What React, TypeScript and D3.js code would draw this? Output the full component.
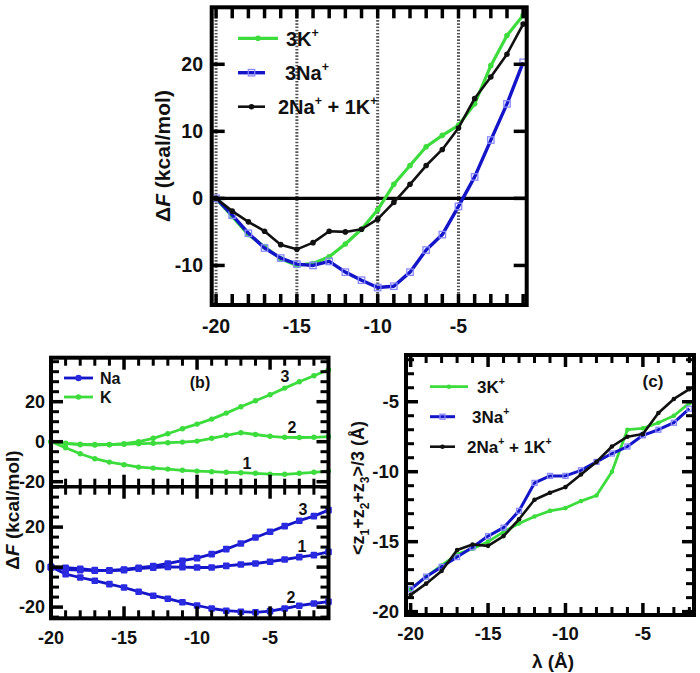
import React from 'react';
import * as d3 from 'd3';

// ---------- data ----------
const lambdaA = [-20, -19, -18, -17, -16, -15, -14, -13, -12, -11, -10, -9, -8, -7, -6, -5, -4, -3, -2, -1];
const k3A = [0, -2.7, -5.4, -7.2, -9.0, -10.0, -9.7, -8.7, -6.8, -4.6, -1.7, 2.1, 4.9, 7.7, 9.4, 10.9, 14.1, 19.8, 24.3, 27.3];
const na3A = [0, -2.5, -5.2, -7.4, -8.9, -9.8, -10.0, -9.4, -11.0, -12.2, -13.3, -13.1, -11.0, -7.7, -5.4, -1.2, 3.2, 8.7, 14.1, 20.3];
const mixA = [0, -1.9, -3.5, -4.9, -6.9, -7.6, -6.6, -4.9, -5.0, -4.6, -3.1, -0.6, 2.1, 4.9, 7.3, 10.5, 14.9, 18.1, 21.5, 26.0];

const lambdaB = [-20, -19, -18, -17, -16, -15, -14, -13, -12, -11, -10, -9, -8, -7, -6, -5, -4, -3, -2, -1];
const k1B = [0, -3, -6, -8.5, -10.2, -11.5, -12.7, -13.2, -13.7, -14.3, -14.7, -15, -15.3, -15.5, -15.8, -16.2, -16.3, -15.8, -15.3, -14.7];
const k2B = [0, -0.8, -1.2, -1.4, -1.4, -1.3, -1.0, -0.8, -0.5, -0.2, 0.3, 1.7, 3.2, 4.5, 3.6, 2.7, 2.2, 2.1, 2.2, 2.5];
const k3B = [0, -1, -1.5, -1.7, -1.5, -1, 0, 1.7, 4, 6.5, 8.8, 11.3, 14.3, 17.5, 20.5, 23.5, 26.8, 30, 33, 36];
const na1B = [0, -0.3, -0.8, -1.5, -1.8, -1.5, -0.8, -0.3, 0.1, 0.0, -0.2, -0.2, 0.6, 1.3, 1.8, 2.7, 3.8, 5.0, 6.0, 7.6];
const na2B = [0, -3.5, -5.2, -6.8, -8.5, -10.2, -12.3, -14.3, -15.8, -17.6, -19.2, -20.7, -21.8, -22.3, -22.6, -22.0, -20.7, -19.3, -18.2, -17.3];
const na3B = [0, -1.2, -1.5, -1.8, -1.6, -1.2, -0.3, 0.5, 1.8, 3.2, 4.5, 6.5, 9, 11.8, 14.8, 17.7, 20.5, 23.2, 25.5, 28.5];

const lambdaC = [-20, -19, -18, -17, -16, -15, -14, -13, -12, -11, -10, -9, -8, -7, -6, -5, -4, -3, -2];
const k3C = [-18.4, -17.5, -16.7, -15.9, -15.5, -15.0, -14.3, -13.7, -13.2, -12.8, -12.6, -12.1, -11.7, -10.0, -7.0, -6.9, -6.5, -6.0, -5.1];
const na3C = [-18.4, -17.5, -16.8, -16.1, -15.4, -14.6, -14.0, -12.8, -10.8, -10.3, -10.3, -9.9, -9.3, -8.7, -8.2, -7.4, -7.0, -6.5, -5.5];
const mixC = [-18.8, -18.0, -17.1, -15.6, -15.2, -15.3, -14.6, -13.4, -12.0, -11.5, -11.1, -10.2, -9.3, -8.2, -7.5, -7.3, -5.8, -4.8, -4.1];

const xTicksA = [-20, -15, -10, -5];
const yTicksA = [20, 10, 0, -10];
const xMinorA = [-20, -19, -18, -17, -16, -15, -14, -13, -12, -11, -10, -9, -8, -7, -6, -5, -4, -3, -2, -1];
const xTicksB = [-20, -15, -10, -5];
const xMinorB = [-19, -18, -17, -16, -14, -13, -12, -11, -9, -8, -7, -6, -4, -3, -2, -1];
const yTicksB = [20, 0, -20];
const yMinorBt = [-15, -10, -5, 5, 10, 15, 25, 30, 35, 40];
const yMinorBb = [-25, -15, -10, -5, 5, 10, 15, 25, 30, 35, 40];
const xTicksC = [-20, -15, -10, -5];
const xMinorC = [-19, -18, -17, -16, -14, -13, -12, -11, -9, -8, -7, -6, -4, -3, -2];
const yTicksC = [-5, -10, -15, -20];
const yMinorC = [-19, -18, -17, -16, -14, -13, -12, -11, -9, -8, -7, -6, -4, -3, -2];

// ---------- style ----------
const FONT = "'Liberation Sans', Arial, Helvetica, sans-serif";
const GREEN = '#3ddc3d';
const BLUE = '#1414c8';
const LBLUE = '#8888ff';
const BLACK = '#111';
const TICK = '#000';

function zip(xs: number[], ys: number[]): [number, number][] {
  return xs.map((v, i) => [v, ys[i]]);
}

function Series({ x, y, xs, ys, color, width, marker, mcolor, msize }: any) {
  const pts = zip(xs, ys);
  const line = d3.line<[number, number]>().x(d => x(d[0])).y(d => y(d[1]));
  return (
    <g>
      <path d={line(pts) || ''} fill="none" stroke={color} strokeWidth={width} strokeLinejoin="round" />
      {pts.map((p, i) =>
        marker === 'square' ? (
          <rect key={i} x={x(p[0]) - msize} y={y(p[1]) - msize} width={msize * 2} height={msize * 2}
            fill="none" stroke={mcolor || color} strokeWidth={1.3} />
        ) : marker === 'fsquare' ? (
          <rect key={i} x={x(p[0]) - msize} y={y(p[1]) - msize} width={msize * 2} height={msize * 2}
            fill={mcolor || color} rx={1} />
        ) : (
          <circle key={i} cx={x(p[0])} cy={y(p[1])} r={msize} fill={mcolor || color} />
        )
      )}
    </g>
  );
}

// inward tick lines on all four sides of a frame
function Ticks({ x, y, L, R, T, B, xs, xlen, ys, ylen, w }: any) {
  return (
    <g>
      {xs.map((v: number) => (
        <line key={'xb' + v} x1={x(v)} x2={x(v)} y1={B} y2={B - xlen} stroke={TICK} strokeWidth={w} />
      ))}
      {xs.map((v: number) => (
        <line key={'xt' + v} x1={x(v)} x2={x(v)} y1={T} y2={T + xlen} stroke={TICK} strokeWidth={w} />
      ))}
      {ys.map((v: number) => (
        <line key={'yl' + v} x1={L} x2={L + ylen} y1={y(v)} y2={y(v)} stroke={TICK} strokeWidth={w} />
      ))}
      {ys.map((v: number) => (
        <line key={'yr' + v} x1={R} x2={R - ylen} y1={y(v)} y2={y(v)} stroke={TICK} strokeWidth={w} />
      ))}
    </g>
  );
}

function LegendEntry({ x0, x1, y, color, width, marker, mcolor, msize, tx, children, fs }: any) {
  const mx = (x0 + x1) / 2;
  return (
    <g>
      <line x1={x0} x2={x1} y1={y} y2={y} stroke={color} strokeWidth={width} />
      {marker === 'square' ? (
        <rect x={mx - msize} y={y - msize} width={msize * 2} height={msize * 2} fill="none" stroke={mcolor} strokeWidth={1.3} />
      ) : (
        <circle cx={mx} cy={y} r={msize} fill={mcolor || color} />
      )}
      <text x={tx} y={y + fs * 0.36} fontSize={fs} fontWeight="bold" fontFamily={FONT} fill={BLACK}>{children}</text>
    </g>
  );
}

function Sup({ children, fs }: any) {
  return <tspan fontSize={fs * 0.62} dy={-fs * 0.45}>{children}</tspan>;
}

export default function App() {
  // ---------- panel A ----------
  const aL = 211.7, aR = 526.7, aT = 7.3, aB = 305;
  const xA = d3.scaleLinear().domain([-20.27, -0.78]).range([aL, aR]);
  const yA = d3.scaleLinear().domain([-15.9, 28.5]).range([aB, aT]);

  // ---------- panel B ----------
  const bL = 51, bR = 328.5, bT = 357.7, bM = 486.7, bB = 618.3;
  const xB = d3.scaleLinear().domain([-20, -1]).range([bL, bR]);
  const yBt = d3.scaleLinear().domain([-22.5, 42]).range([bM, bT]);
  const yBb = d3.scaleLinear().domain([-25.6, 40.2]).range([bB, bM]);

  // ---------- panel C ----------
  const cL = 406, cR = 694, cT = 355, cB = 615;
  const xC = d3.scaleLinear().domain([-20.3, -1.7]).range([cL, cR]);
  const yC = d3.scaleLinear().domain([-20.24, -1.66]).range([cB, cT]);

  const fsA = 19.5;
  const fsB = 18;
  const fsC = 18.5;

  const supA = (t: string, fs: number) => <Sup fs={fs}>{t}</Sup>;

  return (
    <svg width={700} height={673} style={{ position: 'absolute', left: 0, top: 0 }}>
      <rect x={0} y={0} width={700} height={673} fill="#fff" />

      {/* ===== Panel A ===== */}
      {xTicksA.map(v => (
        <line key={'d' + v} x1={xA(v)} x2={xA(v)} y1={aT} y2={aB} stroke="#555" strokeWidth={3} strokeDasharray="1.6 1.6" />
      ))}
      <line x1={aL} x2={aR} y1={yA(0)} y2={yA(0)} stroke="#000" strokeWidth={3.2} />
      <Series x={xA} y={yA} xs={lambdaA} ys={k3A} color={GREEN} width={3.2} marker="circle" msize={2.8} />
      <Series x={xA} y={yA} xs={lambdaA} ys={na3A} color={BLUE} width={3.4} marker="square" mcolor={LBLUE} msize={3.2} />
      <Series x={xA} y={yA} xs={lambdaA} ys={mixA} color={BLACK} width={2.6} marker="circle" msize={2.8} />
      <Ticks x={xA} y={yA} L={aL} R={aR} T={aT} B={aB} xs={xMinorA} xlen={11} ys={yTicksA} ylen={13} w={3.5} />
      <rect x={aL} y={aT} width={aR - aL} height={aB - aT} fill="none" stroke="#000" strokeWidth={4} />

      {/* ===== Panel B ===== */}
      <Series x={xB} y={yBt} xs={lambdaB} ys={k1B} color={GREEN} width={2.8} marker="circle" msize={2.7} />
      <Series x={xB} y={yBt} xs={lambdaB} ys={k2B} color={GREEN} width={2.8} marker="circle" msize={2.7} />
      <Series x={xB} y={yBt} xs={lambdaB} ys={k3B} color={GREEN} width={2.8} marker="circle" msize={2.7} />
      <Series x={xB} y={yBb} xs={lambdaB} ys={na1B} color={BLUE} width={2.8} marker="fsquare" mcolor="#2a2ae0" msize={3.3} />
      <Series x={xB} y={yBb} xs={lambdaB} ys={na2B} color={BLUE} width={2.8} marker="fsquare" mcolor="#2a2ae0" msize={3.3} />
      <Series x={xB} y={yBb} xs={lambdaB} ys={na3B} color={BLUE} width={2.8} marker="fsquare" mcolor="#2a2ae0" msize={3.3} />
      <Ticks x={xB} y={yBt} L={bL} R={bR} T={bT} B={bM} xs={xTicksB} xlen={12} ys={yTicksB} ylen={12} w={3.5} />
      <Ticks x={xB} y={yBt} L={bL} R={bR} T={bT} B={bM} xs={xMinorB} xlen={8} ys={yMinorBt} ylen={8} w={3} />
      <Ticks x={xB} y={yBb} L={bL} R={bR} T={bM} B={bB} xs={xTicksB} xlen={12} ys={yTicksB} ylen={12} w={3.5} />
      <Ticks x={xB} y={yBb} L={bL} R={bR} T={bM} B={bB} xs={xMinorB} xlen={8} ys={yMinorBb} ylen={8} w={3} />
      <rect x={bL} y={bT} width={bR - bL} height={bB - bT} fill="none" stroke="#000" strokeWidth={4} />
      <line x1={bL} x2={bR} y1={bM} y2={bM} stroke="#000" strokeWidth={3.5} />

      {/* ===== Panel C ===== */}
      <Series x={xC} y={yC} xs={lambdaC} ys={k3C} color={GREEN} width={2.8} marker="circle" msize={2.3} />
      <Series x={xC} y={yC} xs={lambdaC} ys={na3C} color={BLUE} width={3} marker="square" mcolor={LBLUE} msize={2.5} />
      <Series x={xC} y={yC} xs={lambdaC} ys={mixC} color={BLACK} width={2.6} marker="circle" msize={2.3} />
      <Ticks x={xC} y={yC} L={cL} R={cR} T={cT} B={cB} xs={xTicksC} xlen={12} ys={yTicksC} ylen={12} w={3.5} />
      <Ticks x={xC} y={yC} L={cL} R={cR} T={cT} B={cB} xs={xMinorC} xlen={8} ys={yMinorC} ylen={8} w={3} />
      <rect x={cL} y={cT} width={cR - cL} height={cB - cT} fill="none" stroke="#000" strokeWidth={4} />

      {/* ===== texts ===== */}
      <g fontFamily={FONT} fontWeight="bold" fill={BLACK}>
        {xTicksA.map(v => (
          <text key={'ax' + v} x={xA(v)} y={326} textAnchor="middle" dominantBaseline="central" fontSize={fsA}>{v}</text>
        ))}
        {yTicksA.map(v => (
          <text key={'ay' + v} x={203} y={yA(v)} textAnchor="end" dominantBaseline="central" fontSize={fsA}>{v}</text>
        ))}
        <text transform={`translate(170,156) rotate(-90)`} textAnchor="middle" fontSize={21}>
          Δ<tspan fontStyle="italic">F</tspan> (kcal/mol)
        </text>

        {xTicksB.map(v => (
          <text key={'bx' + v} x={xB(v)} y={638} textAnchor="middle" dominantBaseline="central" fontSize={fsB}>{v}</text>
        ))}
        {yTicksB.map(v => (
          <text key={'bt' + v} x={45} y={yBt(v)} textAnchor="end" dominantBaseline="central" fontSize={fsB}>{v}</text>
        ))}
        {yTicksB.map(v => (
          <text key={'bb' + v} x={45} y={yBb(v)} textAnchor="end" dominantBaseline="central" fontSize={fsB}>{v}</text>
        ))}
        <text transform={`translate(19,510) rotate(-90)`} textAnchor="middle" fontSize={19}>
          Δ<tspan fontStyle="italic">F</tspan> (kcal/mol)
        </text>
        <text x={200} y={382} textAnchor="middle" dominantBaseline="central" fontSize={16}>(b)</text>
        <text x={285} y={376} textAnchor="middle" dominantBaseline="central" fontSize={16}>3</text>
        <text x={292} y={427} textAnchor="middle" dominantBaseline="central" fontSize={16}>2</text>
        <text x={247} y={463} textAnchor="middle" dominantBaseline="central" fontSize={16}>1</text>
        <text x={303} y={509} textAnchor="middle" dominantBaseline="central" fontSize={16}>3</text>
        <text x={302} y={546} textAnchor="middle" dominantBaseline="central" fontSize={16}>1</text>
        <text x={291} y={597} textAnchor="middle" dominantBaseline="central" fontSize={16}>2</text>

        {xTicksC.map(v => (
          <text key={'cx' + v} x={xC(v)} y={633} textAnchor="middle" dominantBaseline="central" fontSize={fsC}>{v}</text>
        ))}
        {yTicksC.map(v => (
          <text key={'cy' + v} x={399} y={yC(v)} textAnchor="end" dominantBaseline="central" fontSize={fsC}>{v}</text>
        ))}
        <text x={553} y={661} textAnchor="middle" dominantBaseline="central" fontSize={19}>λ  (Å)</text>
        <text transform={`translate(364,488) rotate(-90)`} textAnchor="middle" fontSize={18}>
          &lt;z<tspan fontSize={12} dy={5}>1</tspan><tspan dy={-5}>+z</tspan><tspan fontSize={12} dy={5}>2</tspan><tspan dy={-5}>+z</tspan><tspan fontSize={12} dy={5}>3</tspan><tspan dy={-5}>&gt;/3 (Å)</tspan>
        </text>
        <text x={653} y={381} textAnchor="middle" dominantBaseline="central" fontSize={17}>(c)</text>
      </g>

      {/* legends */}
      <LegendEntry x0={238} x1={278} y={38.3} color={GREEN} width={3.2} msize={2.8} tx={286} fs={20}>3K{supA('+', 20)}</LegendEntry>
      <LegendEntry x0={238} x1={265} y={72.7} color={BLUE} width={3.4} marker="square" mcolor={LBLUE} msize={3.2} tx={285} fs={20}>3Na{supA('+', 20)}</LegendEntry>
      <LegendEntry x0={238} x1={265} y={106.7} color={BLACK} width={2.6} msize={2.8} tx={278} fs={20}>2Na{supA('+', 20)}<tspan dy={9}> + 1K</tspan>{supA('+', 20)}</LegendEntry>

      <LegendEntry x0={64} x1={93} y={378} color={BLUE} width={2.8} marker="circle" mcolor="#2a2ae0" msize={3.2} tx={100} fs={16}>Na</LegendEntry>
      <LegendEntry x0={64} x1={93} y={397} color={GREEN} width={2.8} msize={2.7} tx={100} fs={16}>K</LegendEntry>

      <LegendEntry x0={430} x1={468} y={386.7} color={GREEN} width={2.8} msize={2.3} tx={477} fs={17}>3K{supA('+', 17)}</LegendEntry>
      <LegendEntry x0={430} x1={455} y={416.7} color={BLUE} width={3} marker="square" mcolor={LBLUE} msize={2.5} tx={472} fs={17}>3Na{supA('+', 17)}</LegendEntry>
      <LegendEntry x0={430} x1={455} y={446.7} color={BLACK} width={2.6} msize={2.3} tx={467} fs={17}>2Na{supA('+', 17)}<tspan dy={7.6}> + 1K</tspan>{supA('+', 17)}</LegendEntry>
    </svg>
  );
}
